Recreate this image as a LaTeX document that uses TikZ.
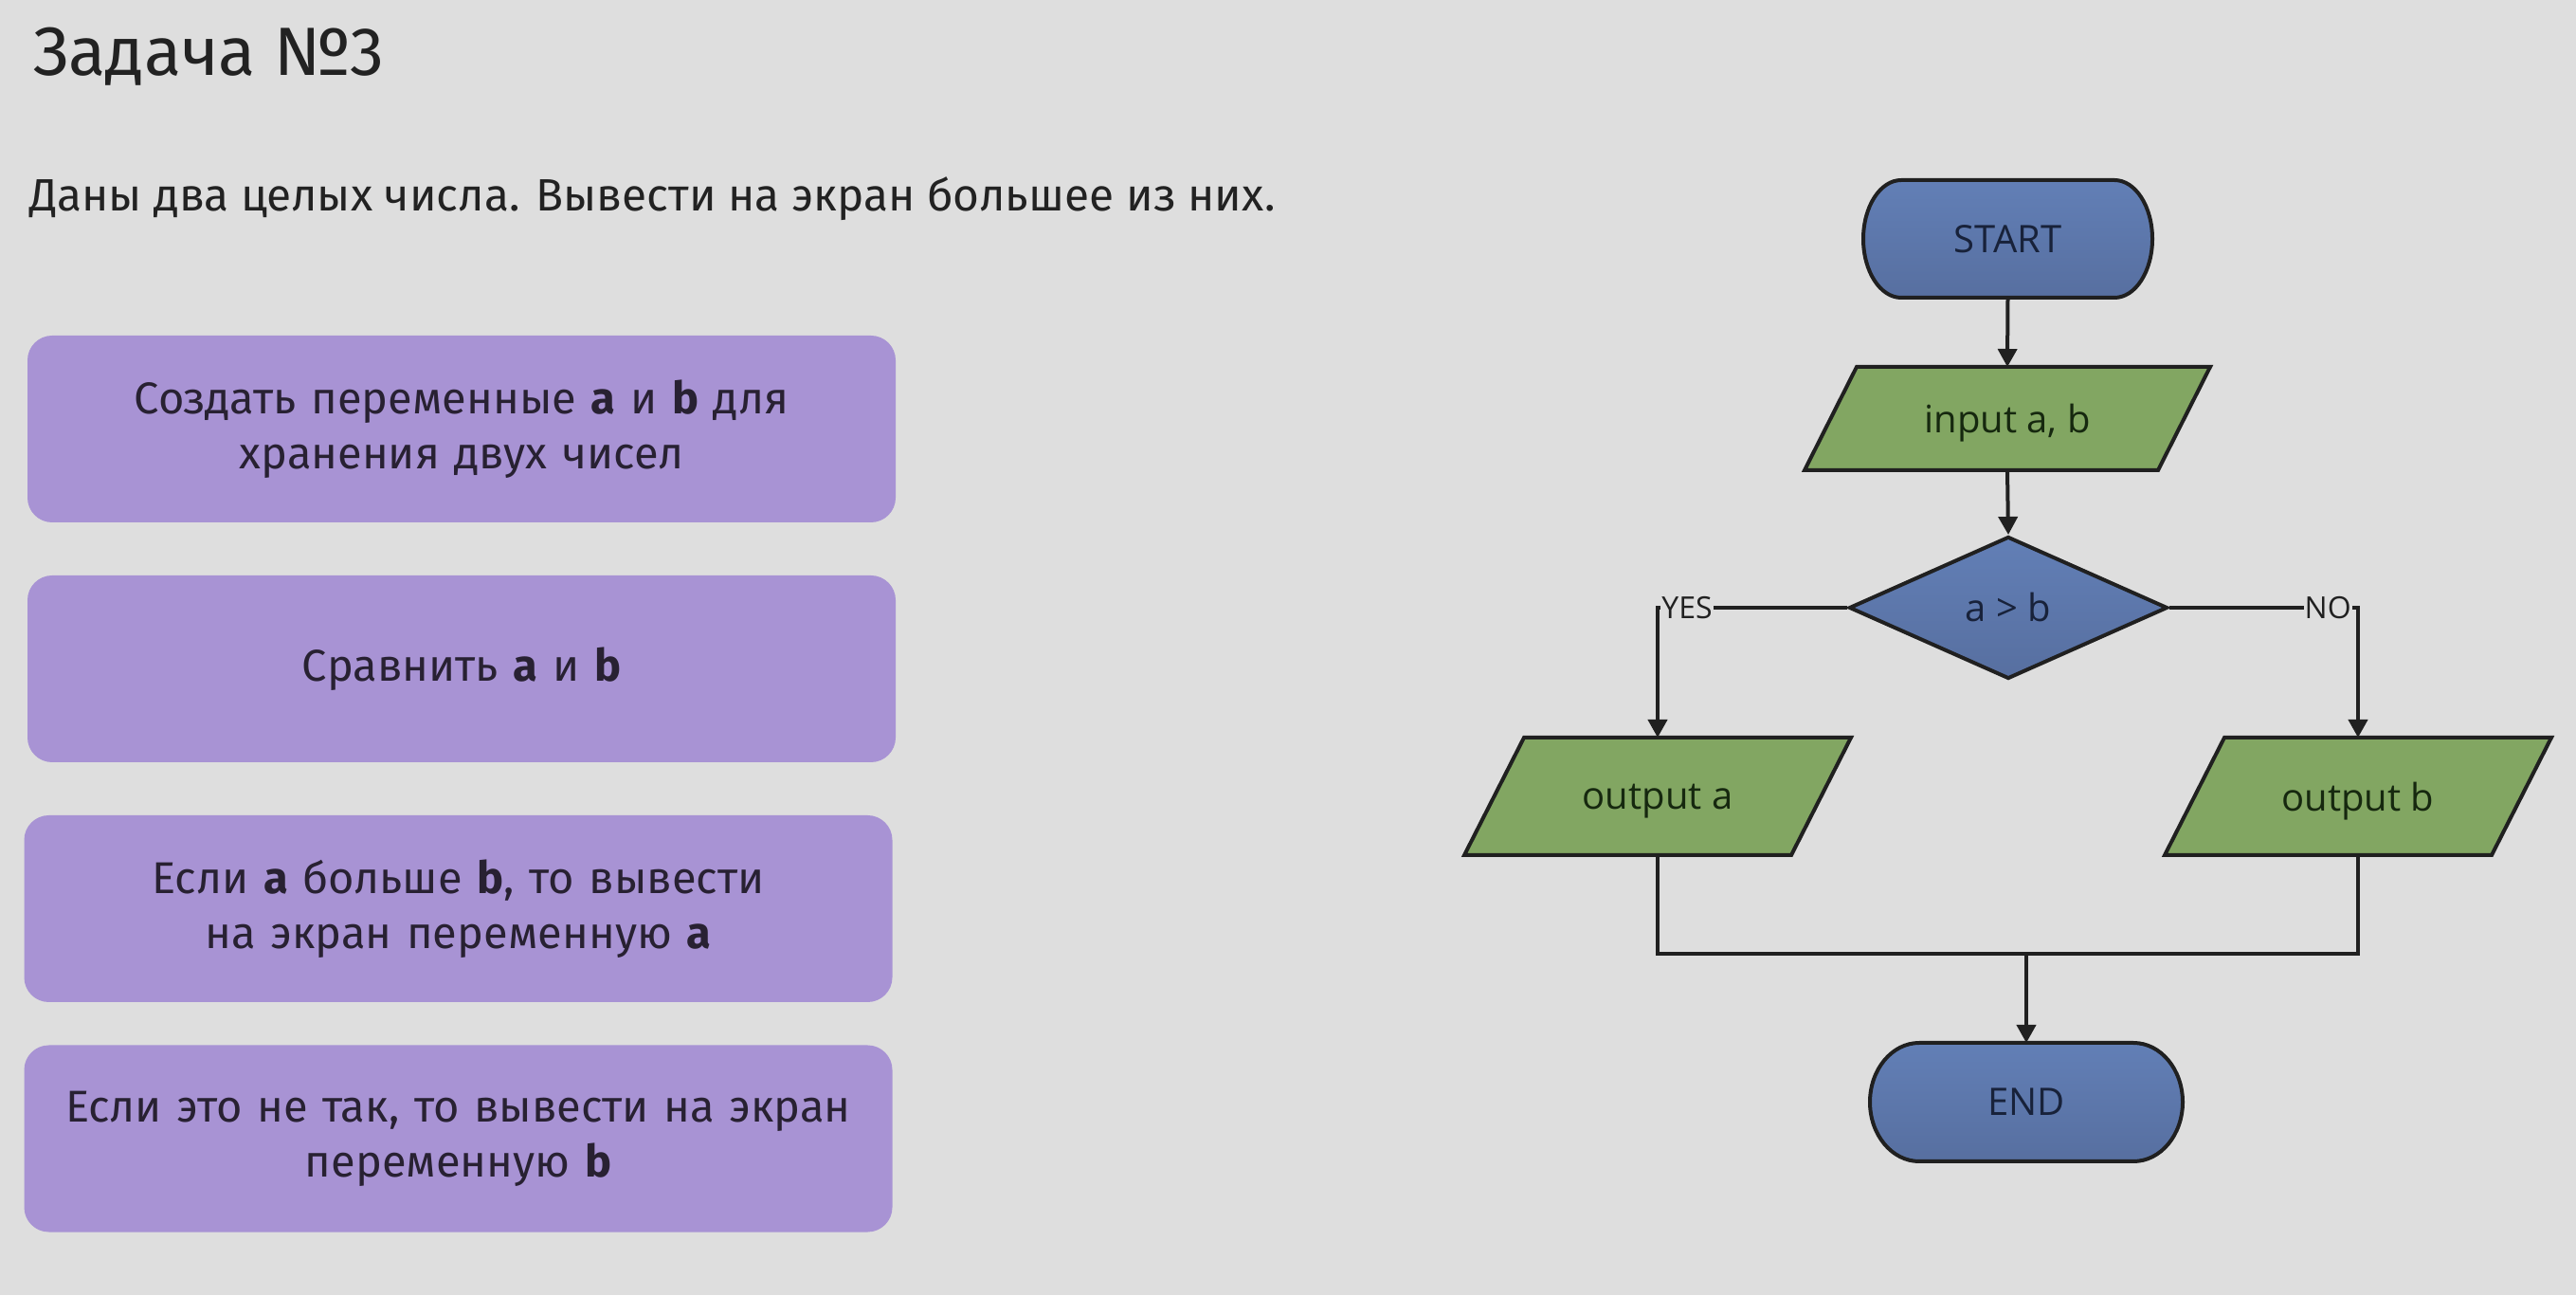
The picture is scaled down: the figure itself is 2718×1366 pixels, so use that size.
\documentclass[tikz,border=0pt]{standalone}
\usepackage{fontspec}
\setmainfont{Fira Sans}
\newfontfamily\fcfont{Open Sans}
\usetikzlibrary{shapes.geometric,arrows.meta,calc}
\definecolor{bgc}{RGB}{222,222,222}
\definecolor{boxc}{RGB}{168,147,212}
\definecolor{boxtext}{RGB}{40,33,50}
\definecolor{titlec}{RGB}{34,34,34}
\definecolor{blueL}{RGB}{98,127,182}
\definecolor{blueD}{RGB}{87,111,160}
\definecolor{greenc}{RGB}{130,166,98}
\definecolor{linec}{RGB}{32,32,32}
\definecolor{bluetext}{RGB}{24,34,58}
\definecolor{greentext}{RGB}{22,40,15}
\pgfdeclarelayer{back}
\pgfdeclarelayer{shp}
\pgfsetlayers{back,shp,main}
\begin{document}
\begin{tikzpicture}[x=1pt,y=1pt,
  infobox/.style={rectangle, rounded corners=26pt, fill=boxc, minimum width=916pt, minimum height=197pt,
    text width=890pt, align=center, text=boxtext, font=\fontsize{47}{58}\selectfont, inner sep=0pt},
  holder/.style={rectangle, inner sep=0pt, outer sep=0pt},
  fctext/.style={font=\fcfont\fontsize{40}{44}\selectfont},
  term/.style={top color=blueL, bottom color=blueD, draw=linec, line width=4pt},
  io/.style={fill=greenc, draw=linec, line width=4pt},
  decision/.style={diamond, top color=blueL, bottom color=blueD, draw=linec, line width=4pt, inner sep=0pt,
    minimum width=336pt, minimum height=150pt, fctext, text=bluetext},
  conn/.style={draw=linec, line width=4pt},
  arr/.style={conn, -{Triangle[length=19pt,width=20pt]}},
  lbl/.style={fill=bgc, inner sep=1pt, font=\fcfont\fontsize{32}{34}\selectfont, text=linec}]
\useasboundingbox (0,0) rectangle (2718,1366);
\begin{pgfonlayer}{back}
  \fill[bgc] (0,0) rectangle (2718,1366);
\end{pgfonlayer}

% left side
\node[anchor=base west, inner sep=0pt, text=titlec, font=\fontsize{72}{80}\selectfont] (title) at (35,1286) {Задача №3};
\node[anchor=base west, inner sep=0pt, text=titlec, font=\fontsize{47.8}{56}\selectfont] (task) at (31,1143) {Даны два целых числа. Вывести на экран большее из них.};

\node[infobox] (b1) at (487,913.5) {Создать переменные {\bfseries a} и {\bfseries b} для\\хранения двух чисел};
\node[infobox] (b2) at (487,660.5) {Сравнить {\bfseries a} и {\bfseries b}};
\node[infobox] (b3) at (483.5,407.5) {Если {\bfseries a} больше {\bfseries b}, то вывести\\на экран переменную {\bfseries a}};
\node[infobox] (b4) at (483.5,165) {Если это не так, то вывести на экран\\переменную {\bfseries b}};

% flowchart nodes
\node[holder, minimum width=305pt, minimum height=124pt, fctext, text=bluetext] (start) at (2118.5,1114) {START};
\node[holder, minimum width=373pt, minimum height=109pt, fctext, text=greentext, text depth=0pt] (inp) at (2118,924.5) {input a, b};
\node[decision] (dec) at (2119,725) {a > b};
\node[holder, minimum width=345pt, minimum height=124pt, fctext, text=greentext, text depth=0pt] (outa) at (1749,526) {output a};
\node[holder, minimum width=345pt, minimum height=124pt, fctext, text=greentext, text depth=0pt] (outb) at (2488,526) {output b};
\node[holder, minimum width=330pt, minimum height=125pt, fctext, text=bluetext] (endn) at (2138,203.5) {END};

\begin{pgfonlayer}{shp}
  \path[term] ([xshift=40pt]start.north west) -- ([xshift=-40pt]start.north east)
    arc[start angle=90,end angle=-90,x radius=40pt,y radius=62pt]
    -- ([xshift=40pt]start.south west)
    arc[start angle=270,end angle=90,x radius=40pt,y radius=62pt] -- cycle;
  \path[term] ([xshift=52pt]endn.north west) -- ([xshift=-52pt]endn.north east)
    arc[start angle=90,end angle=-90,x radius=52pt,y radius=62.5pt]
    -- ([xshift=52pt]endn.south west)
    arc[start angle=270,end angle=90,x radius=52pt,y radius=62.5pt] -- cycle;
  \path[io] ([xshift=27.5pt]inp.north west) -- ([xshift=27.5pt]inp.north east)
    -- ([xshift=-27.5pt]inp.south east) -- ([xshift=-27.5pt]inp.south west) -- cycle;
  \path[io] ([xshift=31.5pt]outa.north west) -- ([xshift=31.5pt]outa.north east)
    -- ([xshift=-31.5pt]outa.south east) -- ([xshift=-31.5pt]outa.south west) -- cycle;
  \path[io] ([xshift=31.5pt]outb.north west) -- ([xshift=31.5pt]outb.north east)
    -- ([xshift=-31.5pt]outb.south east) -- ([xshift=-31.5pt]outb.south west) -- cycle;
\end{pgfonlayer}

% connectors
\coordinate (yc) at (outa.north |- dec.west);
\coordinate (nc) at (outb.north |- dec.east);
\coordinate (m) at (2138,360);
\draw[arr] (start.south) -- (inp.north);
\draw[arr] (inp.south) -- (dec.north);
\draw[arr] (dec.west) -- node[lbl, pos=0.845] {YES} (yc) -- (outa.north);
\draw[arr] (dec.east) -- node[lbl, pos=0.84] {NO} (nc) -- (outb.north);
\draw[conn] (outa.south) |- (m) -| (outb.south);
\draw[arr] (m) -- (endn.north);
\end{tikzpicture}
\end{document}
